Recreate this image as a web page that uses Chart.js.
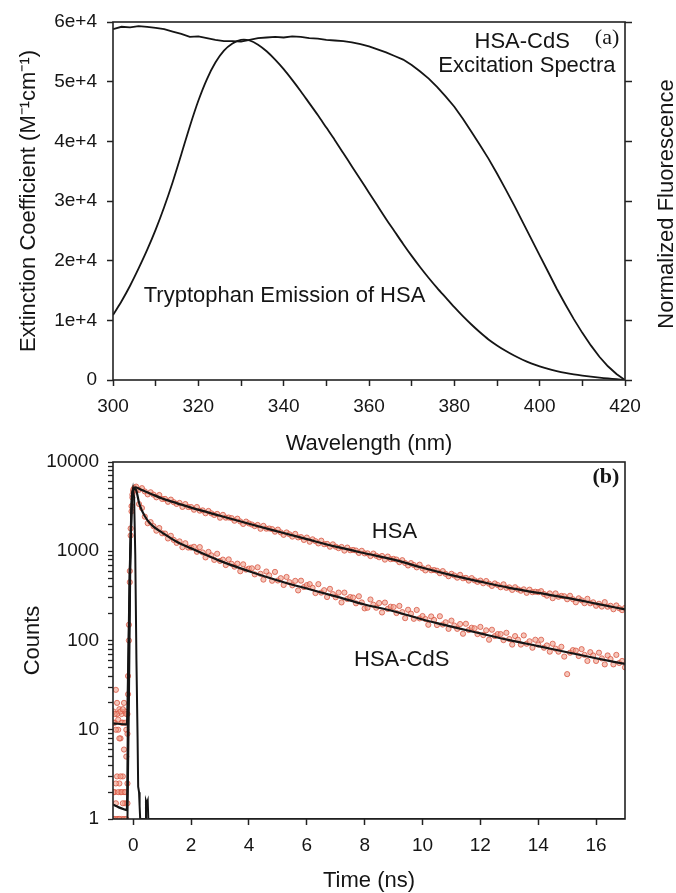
<!DOCTYPE html>
<html>
<head>
<meta charset="utf-8">
<script src="https://cdn.jsdelivr.net/npm/chart.js@4.4.1/dist/chart.umd.min.js"></script>
<style>
  body { margin: 0; background: #fff; }
  #wrap { position: relative; width: 676px; height: 893px; }
  #chartA { position: absolute; left: 0; top: 0; }
  #chartB { position: absolute; left: 0; top: 446px; }
</style>
</head>
<body>
<div id="wrap">
  <canvas id="chartA" width="676" height="458"></canvas>
  <canvas id="chartB" width="676" height="447"></canvas>
</div>
<script>
// ---- panel (a) : spectra ----
const wavelengths = [300,302,304,306,308,310,312,314,316,318,320,322,324,326,328,330,332,334,336,338,
  340,342,344,346,348,350,352,354,356,358,360,362,364,366,368,370,372,374,376,378,
  380,382,384,386,388,390,392,394,396,398,400,402,404,406,408,410,412,414,416,418,420];
const excitation = [58800,59200,59100,59300,59200,59000,58800,58400,58000,57500,57600,57300,57000,56800,56800,56700,57000,57300,57400,57500,
  57400,57600,57500,57300,57200,57000,56900,56800,56600,56300,55900,55400,54900,54300,53700,52800,51700,50500,49100,47500,
  45800,43800,41600,39400,37100,34600,32000,29300,26500,23700,20900,18100,15300,12700,10200,7900,5800,3900,2300,1000,0];
const emission = [10900,13200,15800,18700,21800,25200,29000,33200,37800,42500,46800,50400,53200,55200,56400,57000,56900,56200,55100,53700,
  52100,50300,48400,46400,44400,42300,40200,38000,35800,33600,31400,29200,27000,24900,22800,20800,18900,17100,15400,13800,
  12200,10700,9300,8000,6800,5800,4900,4100,3400,2800,2300,1850,1500,1200,950,740,560,400,260,130,0];
const extTicks = [0, 10000, 20000, 30000, 40000, 50000, 60000];

// ---- panel (b) : decays ----
const hsaFitTimes = [-0.7,-0.22,-0.17,-0.12,-0.07,-0.02,0.07,0.3,0.6,1,1.5,2,3,4,5,6,7,8,9,10,11,12,13,14,15,16,17];
const hsaFit = [11.8,11.5,60,600,2500,4700,5200,4850,4420,3900,3465,3078,2497,2034,1665,1366,1125,949,807,653,540,456,389,341,300,259,223];
const cdsFitTimes = [-0.7,-0.5,-0.3,-0.22,-0.17,-0.12,-0.07,-0.02,0.05,0.1,0.2,0.3,0.5,0.7,1,1.5,2,3,4,5,6,7,8,9,10,11,12,13,14,15,16,17];
const cdsFit = [1.45,1.35,1.28,1.26,40,500,2300,4500,5000,4850,3500,2850,2200,1890,1620,1280,1077,780,598,471,382,312,253,213,172,143,120,101,86.5,73.8,63.3,54.6];
const irfTimes = [-0.2,-0.15,-0.1,-0.05,-0.01,0.03,0.07,0.11,0.15,0.17,0.2,0.22,0.24,0.27,0.3,0.4,0.42,0.44,0.47,0.5,0.52,1.0,17];
const irfCounts = [1,20,800,4200,5000,4000,900,60,8,2.3,2.0,1.4,1.0,1.0,1.0,1.0,1.0,1.6,1.5,1.6,1.0,1.0,1.0];
const timeTicks = [0, 2, 4, 6, 8, 10, 12, 14, 16];

const preTimes = [-0.68,-0.64,-0.6,-0.56,-0.52,-0.48,-0.44,-0.4,-0.36,-0.32,-0.28,-0.24,-0.2];
const hsaPre = [16,12,28,15,10,17,8,15,12,20,16,10,15];
const hsaPre2 = [12,15,10,20,13,8,16,12,17,6,12,15,9];
const cdsPre = [1,2,1.5,3,1,2.5,2,1,3,2,1.5,5,2.5];
const cdsPre2 = [2,1,2.5,1,2,1,3,2,1.5,1,2,1,1.5];
const riseTimes = [-0.18,-0.15,-0.12,-0.09,-0.06,-0.03,0.0,0.04];
const hsaRise = [40,150,600,1800,3200,4300,4900,5150];
const cdsRise = [25,100,450,1500,2800,4000,4700,5000];

const scatterTimes = [0.1,0.2,0.3,0.4,0.5,0.6,0.7,0.8,0.9,1.0,1.1,1.2,1.3,1.4,1.5,1.6,1.7,1.8,1.9,2.0,
  2.1,2.2,2.3,2.4,2.5,2.6,2.7,2.8,2.9,3.0,3.1,3.2,3.3,3.4,3.5,3.6,3.7,3.8,3.9,4.0,
  4.1,4.2,4.3,4.4,4.5,4.6,4.7,4.8,4.9,5.0,5.1,5.2,5.3,5.4,5.5,5.6,5.7,5.8,5.9,6.0,
  6.1,6.2,6.3,6.4,6.5,6.6,6.7,6.8,6.9,7.0,7.1,7.2,7.3,7.4,7.5,7.6,7.7,7.8,7.9,8.0,
  8.1,8.2,8.3,8.4,8.5,8.6,8.7,8.8,8.9,9.0,9.1,9.2,9.3,9.4,9.5,9.6,9.7,9.8,9.9,10.0,
  10.1,10.2,10.3,10.4,10.5,10.6,10.7,10.8,10.9,11.0,11.1,11.2,11.3,11.4,11.5,11.6,11.7,11.8,11.9,12.0,
  12.1,12.2,12.3,12.4,12.5,12.6,12.7,12.8,12.9,13.0,13.1,13.2,13.3,13.4,13.5,13.6,13.7,13.8,13.9,14.0,
  14.1,14.2,14.3,14.4,14.5,14.6,14.7,14.8,14.9,15.0,15.1,15.2,15.3,15.4,15.5,15.6,15.7,15.8,15.9,16.0,
  16.1,16.2,16.3,16.4,16.5,16.6,16.7,16.8,16.9,17.0];
const hsaCounts = [5300,4880,5090,4680,4340,4580,4310,4020,4270,3850,3860,3580,3790,3550,3390,3480,3140,3380,3130,3130,
  2919,3128,2851,2871,2665,2829,2659,2549,2621,2375,2557,2380,2389,2348,2199,2316,2155,2023,2149,2048,
  1994,1913,1970,1786,1925,1791,1799,1769,1657,1747,1626,1527,1624,1549,1460,1566,1429,1441,1339,1423,
  1279,1360,1298,1224,1314,1199,1210,1125,1195,1125,1083,1117,1017,1099,1026,1034,1019,958,1012,946,
  947,884,942,890,857,885,806,872,815,821,807,755,794,738,693,736,701,660,707,644,
  610,657,612,616,605,568,599,558,525,559,535,506,544,498,503,469,500,472,454,469,
  438,464,433,409,436,418,395,426,389,394,369,395,374,361,374,342,371,348,352,348,
  357,332,318,337,298,337,309,316,313,290,317,290,268,297,282,262,293,261,268,245,
  258,240,269,239,245,224,247,230,219,232];
const cdsCounts = [4800,3380,3050,2440,2060,2120,1910,1700,1820,1590,1580,1390,1490,1340,1240,1290,1110,1230,1100,1100,
  1122,986,1113,969,853,983,899,800,937,779,806,700,810,723,672,726,597,714,623,639,
  644,551,661,559,481,593,537,467,587,470,499,419,515,450,415,466,364,468,397,417,
  428,389,340,428,344,366,307,379,331,305,344,267,344,292,307,303,261,313,267,229,
  233,288,252,233,263,206,266,226,239,237,203,244,208,178,221,200,175,220,177,188,
  174,150,186,170,149,187,151,160,135,167,147,135,153,119,154,131,139,137,118,142,
  115,130,102,132,112,118,118,101,122,104,90,112,102,90,114,92,98,83,102,90,
  102,83,88,75,92,81,75,85,66,42,73,78,77,67,80,69,59,74,68,59,
  73,63,54,68,62,54,69,56,59,50];
const decades = [1, 10, 100, 1000, 10000];

const FONT = "'Liberation Sans', Arial, sans-serif";
const tickFont = { family: FONT, size: 19 };
const titleFont = { family: FONT, size: 22, lineHeight: 1 };
const ink = '#151515';

function pts(xs, ys) { return xs.map((x, i) => ({ x: x, y: ys[i] })); }

// frame, free text labels and the right-hand title
const notes = {
  id: 'notes',
  afterDatasetsDraw(chart, args, opts) {
    const ctx = chart.ctx;
    const a = chart.chartArea;
    const xs = chart.scales.x, ys = chart.scales.y;
    ctx.save();
    ctx.strokeStyle = '#222';
    ctx.lineWidth = 1.6;
    ctx.strokeRect(a.left, a.top, a.right - a.left, a.bottom - a.top);
    ctx.fillStyle = ink;
    ctx.textAlign = 'center';
    ctx.textBaseline = 'middle';
    (opts.items || []).forEach(n => {
      ctx.font = n.font;
      ctx.fillText(n.text, xs.getPixelForValue(n.x), ys.getPixelForValue(n.y));
    });
    if (opts.sideTitle) {
      ctx.translate(opts.sideTitle.x, (a.top + a.bottom) / 2 + 3);
      ctx.rotate(-Math.PI / 2);
      ctx.font = '22px ' + FONT;
      ctx.fillText(opts.sideTitle.text, 0, 0);
    }
    ctx.restore();
  }
};

const tickGrid = { drawOnChartArea: false, tickLength: 6, tickColor: '#222', tickWidth: 1.5 };

new Chart(document.getElementById('chartA'), {
  type: 'scatter',
  data: {
    datasets: [
      { label: 'HSA-CdS excitation', data: pts(wavelengths, excitation), showLine: true,
        borderColor: ink, borderWidth: 1.8, pointRadius: 0, tension: 0 },
      { label: 'Tryptophan emission', data: pts(wavelengths, emission), showLine: true,
        borderColor: ink, borderWidth: 1.8, pointRadius: 0, tension: 0.3 }
    ]
  },
  options: {
    responsive: false,
    animation: false,
    layout: { padding: { top: 22, left: 0, right: 0, bottom: 0 } },
    plugins: {
      legend: { display: false },
      tooltip: { enabled: false },
      notes: {
        items: [
          { text: 'HSA-CdS', x: 395.9, y: 56700, font: '22px ' + FONT },
          { text: 'Excitation Spectra', x: 397, y: 52600, font: '22px ' + FONT },
          { text: '(a)', x: 415.8, y: 57200, font: "22px 'Liberation Serif', serif" },
          { text: 'Tryptophan Emission of HSA', x: 340.2, y: 14100, font: '22px ' + FONT }
        ],
        sideTitle: { text: 'Normalized Fluorescence', x: 667 }
      }
    },
    scales: {
      x: {
        type: 'linear', min: 300, max: 420,
        ticks: { stepSize: 10, autoSkip: false, maxRotation: 0, padding: 9, color: ink, font: tickFont,
          callback: v => (v % 20 === 0 ? String(v) : '') },
        grid: tickGrid,
        border: { display: false },
        title: { display: true, text: 'Wavelength (nm)', color: ink, font: titleFont, padding: { top: 0, bottom: 3 } },
        afterFit: s => { s.height = 78; s.paddingLeft = 0; s.paddingRight = 0; }
      },
      y: {
        min: 0, max: 60000,
        afterBuildTicks: s => { s.ticks = extTicks.map(v => ({ value: v })); },
        ticks: { padding: 10, color: ink, font: tickFont,
          callback: v => (v === 0 ? '0' : (v / 10000) + 'e+4') },
        grid: tickGrid,
        border: { display: false },
        title: { display: true, text: 'Extinction Coefficient (M\u207B\u00B9cm\u207B\u00B9)', color: ink, font: titleFont, padding: { top: 18, bottom: 0 } },
        afterFit: s => { s.width = 113; s.paddingTop = 0; s.paddingBottom = 0; }
      },
      y2: {
        position: 'right', min: 0, max: 60000,
        afterBuildTicks: s => { s.ticks = extTicks.map(v => ({ value: v })); },
        ticks: { callback: () => '' },
        grid: { drawOnChartArea: false, tickLength: 7, tickColor: '#222', tickWidth: 1.5 },
        border: { display: false },
        afterFit: s => { s.width = 51; s.paddingTop = 0; s.paddingBottom = 0; }
      }
    }
  },
  plugins: [notes]
});

const dotStyle = { showLine: false, pointRadius: 2.6, pointBorderWidth: 0.9,
  pointBorderColor: 'rgba(214,82,62,0.85)', pointBackgroundColor: 'rgba(240,160,140,0.6)' };

new Chart(document.getElementById('chartB'), {
  type: 'scatter',
  data: {
    datasets: [
      { label: 'IRF', data: pts(irfTimes, irfCounts), showLine: true, borderColor: ink, borderWidth: 2, pointRadius: 0, tension: 0 },
      { label: 'HSA fit', data: pts(hsaFitTimes, hsaFit), showLine: true, borderColor: ink, borderWidth: 2.2, pointRadius: 0,
        cubicInterpolationMode: 'monotone' },
      { label: 'HSA-CdS fit', data: pts(cdsFitTimes, cdsFit), showLine: true, borderColor: ink, borderWidth: 2.2, pointRadius: 0,
        cubicInterpolationMode: 'monotone' },
      Object.assign({ label: 'HSA',
        data: pts(preTimes, hsaPre).concat(pts(preTimes, hsaPre2), pts(riseTimes, hsaRise), pts(scatterTimes, hsaCounts)) }, dotStyle),
      Object.assign({ label: 'HSA-CdS',
        data: pts(preTimes, cdsPre).concat(pts(preTimes, cdsPre2), pts(riseTimes, cdsRise), pts(scatterTimes, cdsCounts)) }, dotStyle)
    ]
  },
  options: {
    responsive: false,
    animation: false,
    layout: { padding: { top: 16, left: 0, right: 51, bottom: 0 } },
    plugins: {
      legend: { display: false },
      tooltip: { enabled: false },
      notes: {
        items: [
          { text: 'HSA', x: 9.03, y: 1644, font: '22px ' + FONT },
          { text: 'HSA-CdS', x: 9.28, y: 60.3, font: '22px ' + FONT },
          { text: '(b)', x: 16.34, y: 6800, font: "bold 22px 'Liberation Serif', serif" }
        ]
      }
    },
    scales: {
      x: {
        type: 'linear', min: -0.7, max: 17, bounds: 'data',
        afterBuildTicks: s => { s.ticks = timeTicks.map(v => ({ value: v })); },
        ticks: { autoSkip: false, maxRotation: 0, padding: 9, color: ink, font: tickFont, callback: v => String(v) },
        grid: tickGrid,
        border: { display: false },
        title: { display: true, text: 'Time (ns)', color: ink, font: titleFont, padding: { top: 0, bottom: 1 } },
        afterFit: s => { s.height = 74; s.paddingLeft = 0; s.paddingRight = 0; }
      },
      y: {
        type: 'logarithmic', min: 1, max: 10000,
        afterBuildTicks: s => {
          s.ticks = s.ticks.filter(t => {
            const m = t.value / Math.pow(10, Math.floor(Math.log10(t.value) + 1e-9));
            return Math.abs(m - Math.round(m)) < 1e-6;
          });
        },
        ticks: { autoSkip: false, padding: 9, color: ink, font: tickFont,
          callback: v => (decades.includes(v) ? String(v) : '') },
        grid: { drawOnChartArea: false, tickLength: 5, tickColor: '#222', tickWidth: 1.3 },
        border: { display: false },
        title: { display: true, text: 'Counts', color: ink, font: titleFont, padding: { top: 22, bottom: 0 } },
        afterFit: s => { s.width = 113; s.paddingTop = 0; s.paddingBottom = 0; }
      }
    }
  },
  plugins: [notes]
});
</script>
</body>
</html>
